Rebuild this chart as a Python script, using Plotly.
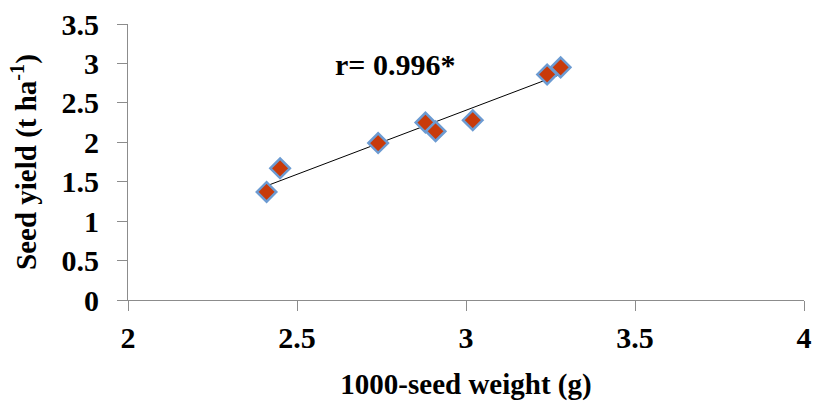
import numpy as np
import plotly.graph_objects as go

seed_weight = [2.41, 2.45, 2.74, 2.88, 2.91, 3.02, 3.24, 3.28]
seed_yield = [1.37, 1.67, 1.99, 2.25, 2.14, 2.28, 2.86, 2.95]
x_ticks = [2, 2.5, 3, 3.5, 4]
y_ticks = [0, 0.5, 1, 1.5, 2, 2.5, 3, 3.5]
annotation_text = "r= 0.996*"

slope, intercept = np.polyfit(seed_weight, seed_yield, 1)
fit_x = [min(seed_weight), max(seed_weight)]
fit_y = [slope * v + intercept for v in fit_x]

fig = go.Figure()
fig.add_trace(go.Scatter(x=fit_x, y=fit_y, mode="lines",
                         line=dict(color="black", width=1), showlegend=False, hoverinfo="skip"))
fig.add_trace(go.Scatter(x=seed_weight, y=seed_yield, mode="markers",
                         marker=dict(symbol="diamond", size=15, color="#C83A0A",
                                     line=dict(color="#6C9BD2", width=2.5)),
                         showlegend=False))

font_family = "Liberation Serif, Times New Roman, serif"
fig.add_annotation(x=2.789, y=2.99, text="<b>" + annotation_text + "</b>", showarrow=False,
                   font=dict(family=font_family, size=30, color="black"))

fig.update_layout(
    width=819, height=401,
    margin=dict(l=128, r=7, t=24, b=100),
    plot_bgcolor="white", paper_bgcolor="white",
    font=dict(family=font_family, color="black"),
    xaxis=dict(range=[2, 4], tickvals=x_ticks, ticktext=[f"<b>{v:g}</b>" for v in x_ticks],
               showgrid=False, zeroline=False, showline=True, linecolor="#8C8C8C", linewidth=1,
               ticks="outside", ticklen=10, tickcolor="#8C8C8C", ticklabelstandoff=1,
               ticklabeloverflow="allow",
               tickfont=dict(size=30, family=font_family),
               title=dict(text="<b>1000-seed weight (g)</b>", font=dict(size=29, family=font_family),
                          standoff=20)),
    yaxis=dict(range=[0, 3.5], tickvals=y_ticks, ticktext=[f"<b>{v:g}</b>" for v in y_ticks],
               showgrid=False, zeroline=False, showline=True, linecolor="#8C8C8C", linewidth=1,
               ticks="outside", ticklen=10, tickcolor="#8C8C8C", ticklabelstandoff=12,
               tickfont=dict(size=30, family=font_family),
               title=dict(text="<b>Seed yield (t ha<sup>-1</sup>)</b>", font=dict(size=29, family=font_family),
                          standoff=16)),
)

fig.write_html("out.html")
